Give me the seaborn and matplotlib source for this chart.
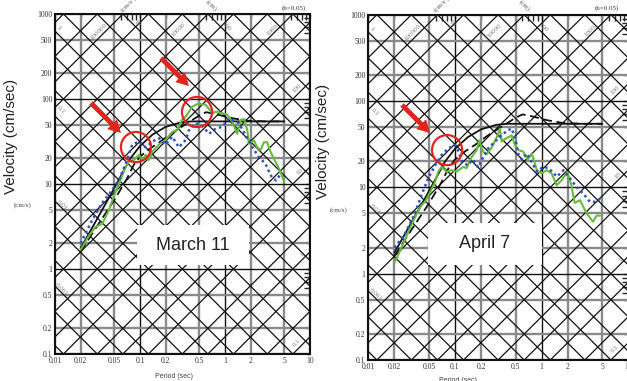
import numpy as np
import matplotlib
matplotlib.use("Agg")
import matplotlib.pyplot as plt
from matplotlib.patches import Rectangle
from matplotlib.ticker import LogLocator, NullFormatter
import seaborn as sns

# axis ticks
x_ticks = [0.01, 0.02, 0.05, 0.1, 0.2, 0.5, 1, 2, 5, 10]
x_tick_labels = ["0.01", "0.02", "0.05", "0.1", "0.2", "0.5", "1", "2", "5", "10"]
y_ticks = [0.1, 0.2, 0.5, 1, 2, 5, 10, 20, 50, 100, 200, 500, 1000]
y_tick_labels = ["0.1", "0.2", "0.5", "1", "2", "5", "10", "20", "50", "100", "200", "500", "1000"]

# tripartite levels (acceleration cm/s^2, displacement cm)
acc_levels = [m * 10.0 ** k for k in range(-2, 6) for m in (1, 2, 5)]
disp_levels = [m * 10.0 ** k for k in range(-4, 4) for m in (1, 2, 5)]

acc_label_text = ["100000", "10000", "1000", "100", "10", "1", "0.1"]
acc_label_T = [0.033, 0.288, 3.6, 7.0, 7.5, 8.1, 7.0]
acc_label_V = [614, 648, 648, 135, 13.9, 1.46, 0.135]
disp_label_text = ["1", "0.1", "0.01", "0.001", "10", "100"]
disp_label_T = [0.0111, 0.0118, 0.012, 0.012, 0.092, 1.03]
disp_label_V = [684, 74, 5.6, 0.57, 784, 703]

# design spectra (black)
design_T = [0.02, 0.03, 0.05, 0.077, 0.1, 0.14, 0.2, 0.3, 0.4, 5.0]
design_solid_V = [1.75, 3.6, 9.0, 20, 28, 38, 47, 53, 54.5, 54.5]
design2_T = [0.02, 0.03, 0.05, 0.07, 0.085, 0.1, 0.13, 0.17, 0.24, 0.34, 0.5, 0.6, 0.8, 1.15, 1.8, 3.0, 5.0]
design2_V = [1.6, 3.0, 6.5, 11.5, 17, 21, 26, 31, 40, 50, 64, 70, 66, 60, 55.5, 54.5, 54.5]

# March 11
mar_green_T = [0.02, 0.025, 0.030, 0.036, 0.043, 0.049, 0.059, 0.068, 0.074, 0.085, 0.097, 0.106,
               0.117, 0.127, 0.139, 0.167, 0.2, 0.24, 0.274, 0.31, 0.346, 0.41, 0.49, 0.54, 0.59,
               0.71, 0.78, 0.93, 1.07, 1.22, 1.39, 1.53, 1.67, 1.83, 1.91, 2.19, 2.39, 2.62, 2.87,
               3.13, 3.43, 3.75, 4.34, 4.98]
mar_green_V = [1.68, 2.45, 3.14, 3.4, 4.9, 7.1, 11.2, 16.1, 18.3, 19.2, 22, 19.2,
               22, 19.2, 24, 29, 33, 41, 43, 56.6, 62, 81, 89, 86, 86,
               68, 71, 68, 65, 54, 39, 57, 58, 43, 30, 32.5, 27, 25, 31,
               31, 24, 20, 15, 10.6]
mar_blue_T = [0.02, 0.0275, 0.036, 0.047, 0.057, 0.068, 0.081, 0.097, 0.117, 0.139, 0.167, 0.2,
              0.24, 0.286, 0.345, 0.377, 0.45, 0.54, 0.65, 0.78, 0.93, 1.11, 1.45, 1.76, 2.1,
              2.5, 2.98, 3.55, 4.0, 4.6]
mar_blue_V = [2.0, 3.8, 6.0, 8.5, 11.3, 17.5, 29, 31.5, 27, 31.5, 34.5, 29,
              36, 27, 33, 43, 51.8, 48, 39, 45, 47, 59, 52, 37, 27,
              20.8, 17.4, 12, 11, 13.5]

# April 7
apr_green_T = [0.0203, 0.024, 0.029, 0.034, 0.041, 0.045, 0.052, 0.059, 0.064, 0.07, 0.08, 0.091,
               0.104, 0.125, 0.136, 0.156, 0.178, 0.19, 0.21, 0.23, 0.26, 0.3, 0.33, 0.345, 0.39,
               0.45, 0.49, 0.54, 0.61, 0.69, 0.77, 0.88, 1.0, 1.14, 1.3, 1.49, 1.7, 1.97, 2.2,
               2.4, 2.76, 3.3, 3.9, 4.3, 4.7]
apr_green_V = [1.37, 1.97, 3.07, 4.35, 6.2, 6.8, 8.9, 11.6, 15.2, 17.3, 15.2, 15.8,
               15.2, 17.3, 16.7, 22.6, 27, 35, 26, 24, 28, 37, 48, 34, 37,
               40, 31, 27, 26, 21, 24.6, 15.8, 14.5, 15.8, 14.5, 10.6, 12.1, 15, 10.6,
               6.6, 7.1, 5.0, 4.0, 4.7, 4.7]
apr_blue_T = [0.02, 0.026, 0.034, 0.041, 0.049, 0.059, 0.07, 0.084, 0.1, 0.11, 0.12, 0.14,
              0.16, 0.185, 0.21, 0.24, 0.29, 0.34, 0.41, 0.45, 0.49, 0.54, 0.59, 0.67, 0.73,
              0.88, 1.04, 1.2, 1.5, 1.78, 2.1, 2.5, 3.0, 3.6, 4.3, 4.7]
apr_blue_V = [2.0, 2.8, 4.8, 8.1, 12.7, 18, 23.7, 28.3, 31, 26, 20, 18,
              21, 17, 22, 28, 34, 40, 46, 48, 38, 24, 21, 24.6, 21.6,
              15.2, 17.3, 16.7, 13.3, 15.8, 12.9, 10.2, 8.5, 6.8, 6.8, 7.4]

RED = "#e3241d"
GREEN = "#66bb3f"
BLUE = "#2f4fc0"
SERIF = "Liberation Serif"
SANS = "Liberation Sans"


def tripartite(ax):
    ax.set_xscale("log")
    ax.set_yscale("log")
    ax.set_xlim(0.01, 10)
    ax.set_ylim(0.1, 1000)

    for t in x_ticks:
        if t in (0.1, 1):
            ax.axvline(t, color="#111111", lw=1.0, zorder=1)
        else:
            ax.axvline(t, color="#8a8a8a", lw=1.7, zorder=1)
    for v in y_ticks:
        if v in (1, 10, 100):
            ax.axhline(v, color="#111111", lw=1.0, zorder=1)
        else:
            ax.axhline(v, color="#8a8a8a", lw=1.7, zorder=1)

    T = np.logspace(-2.5, 1.5, 50)
    for a in acc_levels:
        ax.plot(T, a * T / (2 * np.pi), color="#111111", lw=0.9, zorder=1.5)
    for d in disp_levels:
        ax.plot(T, 2 * np.pi * d / T, color="#111111", lw=0.9, zorder=1.5)

    for txt, t, v in zip(acc_label_text, acc_label_T, acc_label_V):
        ax.text(t, v, txt, rotation=45, fontsize=5, color="#777777", family=SERIF,
                ha="center", va="center", zorder=2)
    for txt, t, v in zip(disp_label_text, disp_label_T, disp_label_V):
        ax.text(t, v, txt, rotation=-45, fontsize=5, color="#777777", family=SERIF,
                ha="center", va="center", zorder=2)

    ax.set_xticks(x_ticks)
    ax.set_xticklabels(x_tick_labels)
    ax.set_yticks(y_ticks)
    ax.set_yticklabels(y_tick_labels)
    ax.xaxis.set_minor_locator(LogLocator(base=10, subs=[6, 7, 8, 9]))
    ax.yaxis.set_minor_locator(LogLocator(base=10, subs=[6, 7, 8, 9]))
    ax.xaxis.set_minor_formatter(NullFormatter())
    ax.yaxis.set_minor_formatter(NullFormatter())
    ax.tick_params(which="major", direction="in", length=3, width=1.0,
                   top=True, right=True, labelsize=5.5, pad=2, labelcolor="#333333")
    ax.tick_params(which="minor", direction="in", length=4, width=1.0, top=True, right=True)
    for lab in ax.get_xticklabels() + ax.get_yticklabels():
        lab.set_fontfamily(SERIF)
    for s in ax.spines.values():
        s.set_linewidth(1.5)
        s.set_color("#111111")
        s.set_zorder(5)


def curves(ax, green_T, green_V, blue_T, blue_V):
    sns.lineplot(x=design_T, y=design_solid_V, ax=ax, color="#111111", lw=1.3,
                 estimator=None, sort=False, zorder=3)
    sns.lineplot(x=design2_T, y=design2_V, ax=ax, color="#111111", lw=1.3,
                 estimator=None, sort=False, zorder=3, linestyle=(0, (5, 2.5)))
    sns.lineplot(x=blue_T, y=blue_V, ax=ax, color=BLUE, lw=1.8,
                 estimator=None, sort=False, zorder=3.2, linestyle=(0, (1, 1.3)))
    sns.lineplot(x=green_T, y=green_V, ax=ax, color=GREEN, lw=1.5,
                 estimator=None, sort=False, zorder=3.1)


def mark(ax, circles, arrows, label, box):
    for t, v in circles:
        ax.scatter([t], [v], s=470, facecolors="none", edgecolors=RED, linewidths=1.6, zorder=6)
    for (t0, v0), (t1, v1) in arrows:
        ax.annotate("", xy=(t1, v1), xytext=(t0, v0), zorder=6,
                    arrowprops=dict(facecolor=RED, edgecolor="none", width=3.5,
                                    headwidth=10, headlength=9, shrink=0))
    x0, x1, y0, y1 = box
    ax.add_patch(Rectangle((x0, y0), x1 - x0, y1 - y0, transform=ax.transAxes,
                           facecolor="white", edgecolor="none", zorder=2.5))
    ax.text((x0 + x1) / 2, (y0 + y1) / 2, label, transform=ax.transAxes, fontsize=13,
            family=SANS, color="#222222", ha="center", va="center", zorder=2.6)


sns.set_style("white")
fig = plt.figure(figsize=(6.27, 3.81), dpi=100)
W, H = 627.0, 381.0
ax1 = fig.add_axes([55 / W, 1 - 354 / H, 255 / W, 340 / H])
ax2 = fig.add_axes([368.3 / W, 1 - 360 / H, 260.1 / W, 345.3 / H])

for ax in (ax1, ax2):
    tripartite(ax)
    ax.set_ylabel("Velocity (cm/sec)", fontsize=11, family=SANS, color="#222222")
    ax.set_xlabel("Period (sec)", fontsize=5, family=SANS, color="#444444")

ax1.yaxis.set_label_coords(-0.145, 0.64)
ax2.yaxis.set_label_coords(-0.147, 0.633)
ax1.xaxis.set_label_coords(0.465, -0.055)
ax2.xaxis.set_label_coords(0.345, -0.05)

curves(ax1, mar_green_T, mar_green_V, mar_blue_T, mar_blue_V)
curves(ax2, apr_green_T, apr_green_V, apr_blue_T, apr_blue_V)

mark(ax1, [(0.0897, 27.2), (0.469, 70.3)],
     [((0.0265, 89.8), (0.0597, 39.8)), ((0.177, 303), (0.377, 142))],
     "March 11", (0.322, 0.761, 0.262, 0.379))
mark(ax2, [(0.081, 27.0)],
     [((0.0245, 90), (0.0515, 42.6))],
     "April 7", (0.2295, 0.668, 0.275, 0.397))

# small unit labels
fig.text(23 / W, 1 - 205 / H, "(cm/s)", fontsize=5, family=SERIF, color="#444444",
         ha="center", va="center")
fig.text(339 / W, 1 - 210 / H, "(cm/s)", fontsize=5, family=SERIF, color="#444444",
         ha="center", va="center")
for off in (0, 313):
    fig.text((124 + off) / W, 1 - 13 / H, "(cm/s²)", fontsize=5, family=SERIF, color="#555555",
             rotation=45, rotation_mode="anchor", ha="left", va="bottom")
    fig.text((214 + off) / W, 1 - 12 / H, "(cm)", fontsize=5, family=SERIF, color="#555555",
             rotation=-45, rotation_mode="anchor", ha="right", va="bottom")
    fig.text((294 + off) / W, 1 - 8 / H, "(h=0.05)", fontsize=5, family=SERIF, color="#333333",
             ha="center", va="center")

fig.savefig("out.png", dpi=100)
